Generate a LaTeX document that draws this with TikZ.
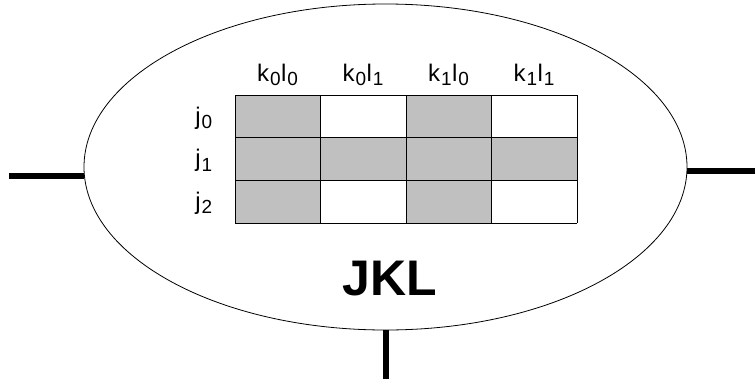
\documentclass[tikz,border=0pt]{standalone}
\usepackage{fontspec}
\setmainfont{Liberation Sans}
\usetikzlibrary{shapes.geometric,positioning,calc}

\definecolor{cellgray}{RGB}{192,192,192}
\newcommand{\ix}[1]{\kern1pt\raisebox{-4.5pt}{\fontsize{19}{19}\selectfont #1}\kern0.5pt}

\tikzset{
  wire/.style={line width=6pt},
  grid line/.style={line width=0.9pt},
  lbl/.style={font=\fontsize{24}{28}\selectfont, anchor=base, inner sep=0pt}
}

\begin{document}
\begin{tikzpicture}[x=1pt,y=-1pt]
        \useasboundingbox (0,0) rectangle (755,383);
        \node[draw, ellipse, line width=0.8pt, minimum width=603, minimum height=326, inner sep=0pt] (E) at (385.5,167) {};

        % table corner
        \coordinate (T) at (235,95);
        \foreach \c in {0,2}
            \fill[cellgray] ($(T)+(\c*85.5,0)$) rectangle ++(85.5,128);
        \fill[cellgray] ($(T)+(0,42.67)$) rectangle ++(342,42.67);
        \foreach \i in {0,...,4}
            \draw[grid line] ($(T)+(\i*85.5,0)$) -- ++(0,128);
        \foreach \i in {0,...,3}
            \draw[grid line] ($(T)+(0,\i*42.67)$) -- ++(342,0);

        % column labels
        \foreach \c/\k/\l in {0/0/0,1/0/1,2/1/0,3/1/1}
            \node[lbl] (k\k l\l) at ($(T)+(\c*85.5+42.75,-14)$) {k\ix{\k}l\ix{\l}};
        % row labels
        \foreach \r in {0,1,2}
            \node[lbl] (j\r) at ($(T)+(-31,\r*42.67+29)$) {j\ix{\r}};

        \node[font=\bfseries\fontsize{50}{56}\selectfont, anchor=base, inner sep=0pt] (jkl) at (390,295) {JKL};

        % wires
        \coordinate (lw) at (9,176);
        \coordinate (rw) at (755,171);
        \coordinate (bw) at (385.5,379);
        \draw[wire] (lw) -- (E.west |- lw);
        \draw[wire] (rw) -- (E.east |- rw);
        \draw[wire] (bw) -- (E.south);
\end{tikzpicture}
\end{document}
